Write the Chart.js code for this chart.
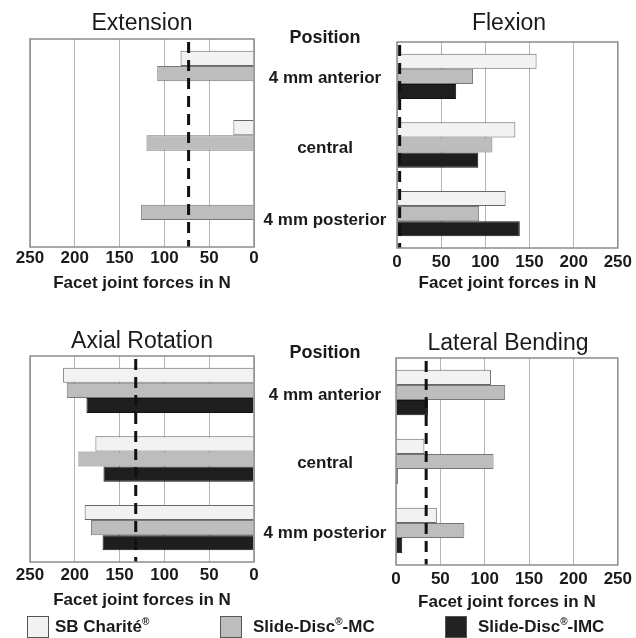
<!DOCTYPE html>
<html>
<head>
<meta charset="utf-8">
<script src="https://cdn.jsdelivr.net/npm/chart.js@4.4.1/dist/chart.umd.min.js"></script>
<style>
body { margin: 0; background: #fff; font-family: "Liberation Sans", Arial, sans-serif; }
#page { position: relative; width: 636px; height: 638px; overflow: hidden; }
canvas { position: absolute; }
.lbl { position: absolute; width: 150px; left: 250px; text-align: center; font-weight: bold; font-size: 17px; color: #1a1a1a; line-height: 20px; }
.pos { font-size: 18px; }
.leg { position: absolute; font-weight: bold; font-size: 17px; color: #1a1a1a; line-height: 20px; }
.box { position: absolute; width: 20px; height: 20px; border: 1px solid #555; }
sup { font-size: 10px; line-height: 0; vertical-align: 0; position: relative; top: -7px; }
</style>
</head>
<body>
<div id="page">
<canvas id="ext"></canvas>
<canvas id="flex"></canvas>
<canvas id="axial"></canvas>
<canvas id="lat"></canvas>

<div class="lbl pos" style="top:27px">Position</div>
<div class="lbl" style="top:68px">4 mm anterior</div>
<div class="lbl" style="top:138px">central</div>
<div class="lbl" style="top:210px">4 mm posterior</div>

<div class="lbl pos" style="top:342px">Position</div>
<div class="lbl" style="top:385px">4 mm anterior</div>
<div class="lbl" style="top:453px">central</div>
<div class="lbl" style="top:523px">4 mm posterior</div>

<div class="box" style="left:27px;top:616px;background:#f2f2f2"></div>
<div class="leg" style="left:55px;top:617px">SB Charité<sup>®</sup></div>
<div class="box" style="left:220px;top:616px;background:#bdbdbd"></div>
<div class="leg" style="left:253px;top:617px">Slide-Disc<sup>®</sup>-MC</div>
<div class="box" style="left:445px;top:616px;background:#222"></div>
<div class="leg" style="left:478px;top:617px">Slide-Disc<sup>®</sup>-IMC</div>
</div>

<script>
// categories and series
var positions = ["4 mm anterior", "central", "4 mm posterior"];
var seriesNames = ["SB Charité®", "Slide-Disc®-MC", "Slide-Disc®-IMC"];
var xTicks = [0, 50, 100, 150, 200, 250];

// facet joint forces in N
var extSB = [82, 23, 0];
var extMC = [108, 120, 126];
var extIMC = [0, 0, 0];
var extIntact = 73;

var flexSB = [158, 134, 123];
var flexMC = [86, 108, 93];
var flexIMC = [67, 92, 139];
var flexIntact = 3;

var axSB = [213, 177, 189];
var axMC = [209, 196, 182];
var axIMC = [187, 168, 169];
var axIntact = 132;

var latSB = [107, 32, 46];
var latMC = [123, 110, 77];
var latIMC = [36, 2, 7];
var latIntact = 34;

var fillColors = ["#f2f2f2", "#bdbdbd", "#1e1e1e"];
var edgeColors = ["#666", "#777", "#111"];
var fontFam = "'Liberation Sans', Arial, sans-serif";

// frame round the plot area + dashed intact line
var framePlugin = {
    id: "frame",
    afterDatasetsDraw: function(chart) {
        var a = chart.chartArea;
        var c = chart.ctx;
        var v = chart.options.plugins.frame.value;
        var x = chart.scales.x.getPixelForValue(v);
        c.save();
        c.strokeStyle = "#111";
        c.lineWidth = 3;
        c.setLineDash([11, 7]);
        c.beginPath();
        c.moveTo(x, a.top + 3);
        c.lineTo(x, a.bottom);
        c.stroke();
        c.setLineDash([]);
        c.strokeStyle = "#8c8c8c";
        c.lineWidth = 1.5;
        c.strokeRect(a.left, a.top, a.right - a.left, a.bottom - a.top);
        c.restore();
    }
};

function makePanel(id, box, title, sb, mc, imc, intact, reversed, lay)
{
    var el = document.getElementById(id);
    el.style.left = box[0] + "px";
    el.style.top = box[1] + "px";
    el.width = box[2];
    el.height = box[3];
    el.style.width = box[2] + "px";
    el.style.height = box[3] + "px";

    var vals = [sb, mc, imc];
    var sets = [];
    for (var i = 0; i < 3; i++) {
        sets.push({
            label: seriesNames[i],
            data: vals[i],
            backgroundColor: fillColors[i],
            borderColor: edgeColors[i],
            borderWidth: 1,
            borderSkipped: "start",
            categoryPercentage: 0.66,
            barPercentage: 1.0
        });
    }

    return new Chart(el, {
        type: "bar",
        data: { labels: positions, datasets: sets },
        options: {
            indexAxis: "y",
            responsive: false,
            animation: false,
            layout: { padding: { left: lay.left, right: lay.right, top: 0, bottom: 0 } },
            plugins: {
                legend: { display: false },
                tooltip: { enabled: false },
                title: {
                    display: true,
                    text: title,
                    color: "#1a1a1a",
                    font: { family: fontFam, size: 23, weight: "normal" },
                    padding: { top: lay.titleTop, bottom: lay.titleBottom }
                },
                frame: { value: intact }
            },
            scales: {
                x: {
                    min: 0,
                    max: 250,
                    reverse: reversed,
                    afterBuildTicks: function(s) { s.ticks = xTicks.map(function(t) { return { value: t }; }); },
                    afterFit: function(s) { s.height = lay.axisH; },
                    grid: { color: "#b5b5b5", lineWidth: 1, drawTicks: false },
                    border: { display: false },
                    ticks: {
                        color: "#1a1a1a",
                        padding: lay.tickPad,
                        maxRotation: 0,
                        font: { family: fontFam, size: 17, weight: "bold" }
                    },
                    title: {
                        display: true,
                        text: "Facet joint forces in N",
                        color: "#1a1a1a",
                        font: { family: fontFam, size: 17, weight: "bold" },
                        padding: { top: 0, bottom: lay.axTitleBottom }
                    }
                },
                y: { display: false }
            }
        },
        plugins: [framePlugin]
    });
}

makePanel("ext", [0, 0, 300, 300], "Extension", extSB, extMC, extIMC, extIntact, true,
    { left: 30, right: 46, titleTop: 10, titleBottom: 1.4, axisH: 53, tickPad: 1, axTitleBottom: 6.8 });
makePanel("flex", [318, 0, 318, 300], "Flexion", flexSB, flexMC, flexIMC, flexIntact, false,
    { left: 79, right: 15, titleTop: 10, titleBottom: 4.4, axisH: 52, tickPad: 4, axTitleBottom: 6.8 });
makePanel("axial", [0, 310, 300, 310], "Axial Rotation", axSB, axMC, axIMC, axIntact, true,
    { left: 30, right: 46, titleTop: 17.9, titleBottom: 0.5, axisH: 58, tickPad: 3.5, axTitleBottom: 9.1 });
makePanel("lat", [318, 310, 318, 310], "Lateral Bending", latSB, latMC, latIMC, latIntact, false,
    { left: 78, right: 16, titleTop: 20.2, titleBottom: 0.2, axisH: 55, tickPad: 4, axTitleBottom: 7.8 });
</script>
</body>
</html>
